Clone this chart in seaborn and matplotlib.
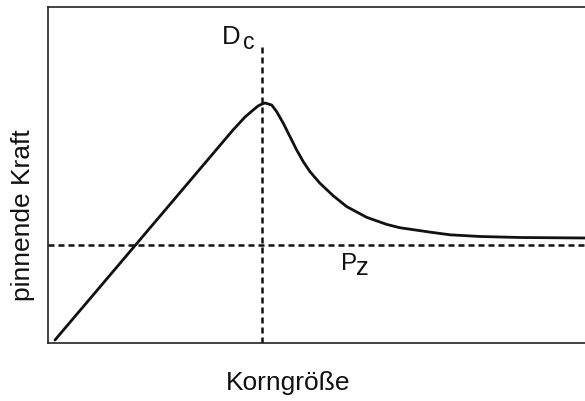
import matplotlib
matplotlib.use("Agg")
import matplotlib.pyplot as plt
import seaborn as sns
import pandas as pd

# Data (arbitrary units 0..100)
korngroesse = [1.30, 34.45, 36.69, 37.99, 39.11, 39.85, 40.41, 41.66, 42.59, 43.82,
               45.07, 46.31, 47.54, 48.79, 50.65, 53.13, 55.62, 59.35, 63.07, 65.55,
               71.14, 74.86, 80.45, 87.90, 100.0]
pinnende_kraft = [0.89, 63.39, 67.26, 69.05, 70.54, 71.13, 71.43, 70.83, 68.84, 65.39,
                  61.40, 57.44, 53.96, 50.98, 47.53, 43.80, 40.60, 37.40, 35.30, 34.30,
                  33.00, 32.20, 31.70, 31.40, 31.25]
pz_level = 29.2
dc_position = 39.85
dc_top = 89.3

df = pd.DataFrame({"Korngröße": korngroesse, "pinnende Kraft": pinnende_kraft})

sns.set_style("white")
plt.rcParams["font.family"] = ["Liberation Sans", "DejaVu Sans"]

fig = plt.figure(figsize=(5.85, 4.01), dpi=100)
ax = fig.add_axes([48/585, 1 - 343/401, 1 - 48/585, (343 - 7)/401])

sns.lineplot(data=df, x="Korngröße", y="pinnende Kraft", ax=ax, color="#111111",
             linewidth=2.0, sort=False, estimator=None)
for l in ax.lines:
    l.set_solid_joinstyle("round")
    l.set_solid_capstyle("round")

dash = (0, (2.4, 1.6))
ax.axhline(pz_level, color="#111111", linewidth=1.8, linestyle=dash)
ax.plot([dc_position, dc_position], [0, dc_top], color="#111111", linewidth=1.8, linestyle=dash)

ax.set_xlim(0, 100)
ax.set_ylim(0, 100)
ax.set_xticks([])
ax.set_yticks([])
ax.set_xlabel("")
ax.set_ylabel("")

for s in ["left", "bottom", "top"]:
    ax.spines[s].set_color("#222222")
    ax.spines[s].set_linewidth(1.2)
ax.spines["right"].set_visible(False)

ax.text(32.3, 89.0, "D", fontsize=18.5, ha="left", va="baseline", color="#111111")
ax.text(36.3, 87.6, "c", fontsize=16.5, ha="left", va="baseline", color="#111111")
ax.text(54.6, 21.7, "P", fontsize=17.5, ha="left", va="baseline", color="#111111")
ax.text(57.4, 20.2, "z", fontsize=18.5, ha="left", va="baseline", color="#111111")

ax.text(-0.047, 0.381, "pinnende Kraft", transform=ax.transAxes, rotation=90,
        ha="center", va="center", fontsize=19, color="#111111")
ax.text(0.447, -0.119, "Korngröße", transform=ax.transAxes,
        ha="center", va="center", fontsize=19, color="#111111")

fig.savefig("out.png", dpi=100)
